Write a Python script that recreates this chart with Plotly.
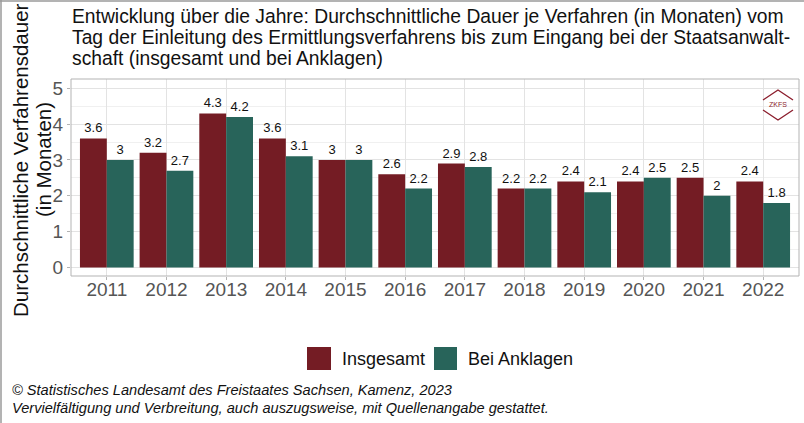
import plotly.graph_objects as go

# Average duration per proceeding (months), by year
years = ["2011", "2012", "2013", "2014", "2015", "2016",
         "2017", "2018", "2019", "2020", "2021", "2022"]
insgesamt = [3.6, 3.2, 4.3, 3.6, 3.0, 2.6, 2.9, 2.2, 2.4, 2.4, 2.5, 2.4]
bei_anklagen = [3.0, 2.7, 4.2, 3.1, 3.0, 2.2, 2.8, 2.2, 2.1, 2.5, 2.0, 1.8]

series_names = ["Insgesamt", "Bei Anklagen"]
series_colors = ["#741c24", "#28645a"]

title_lines = [
    "Entwicklung über die Jahre: Durchschnittliche Dauer je Verfahren (in Monaten) vom",
    "Tag der Einleitung des Ermittlungsverfahrens bis zum Eingang bei der Staatsanwalt-",
    "schaft (insgesamt und bei Anklagen)",
]
y_title_lines = ["Durchschnittliche Verfahrensdauer", "(in Monaten)"]
caption_lines = [
    "© Statistisches Landesamt des Freistaates Sachsen, Kamenz, 2023",
    "Vervielfältigung und Verbreitung, auch auszugsweise, mit Quellenangabe gestattet.",
]

W, H = 804, 423
ML, MR, MT, MB = 71, 5, 79, 147
PW, PH = W - ML - MR, H - MT - MB


def px(x):
    return (x - ML) / PW


def py(y):
    return (H - MB - y) / PH


FONT = "Liberation Sans, Arial, sans-serif"

fig = go.Figure()
for name, vals, col in zip(series_names, [insgesamt, bei_anklagen], series_colors):
    fig.add_trace(go.Bar(
        x=years, y=vals, name=name,
        marker=dict(color=col, line=dict(width=0)),
        text=[f"{v:g}" for v in vals],
        textposition="outside",
        textfont=dict(size=13, color="#111111", family=FONT),
        cliponaxis=False,
        showlegend=False,
    ))

fig.update_layout(
    width=W, height=H,
    margin=dict(l=ML, r=MR, t=MT, b=MB),
    paper_bgcolor="white", plot_bgcolor="white",
    barmode="group", bargap=0.1, bargroupgap=0.0,
    font=dict(family=FONT),
    uniformtext=dict(mode=False),
)
fig.update_xaxes(
    type="category", range=[-0.6, 11.6],
    showgrid=True, gridcolor="#e3e3e3", gridwidth=1,
    showline=False, mirror=False,
    ticks="outside", ticklen=3, tickcolor="#b3b3b3",
    ticklabelstandoff=-7,
    tickfont=dict(size=19, color="#555555", family=FONT),
    zeroline=False,
)
fig.update_yaxes(
    range=[-0.24, 5.26],
    tickvals=[0, 1, 2, 3, 4, 5],
    showgrid=True, gridcolor="#e3e3e3", gridwidth=1,
    minor=dict(tickvals=[0.5, 1.5, 2.5, 3.5, 4.5], showgrid=True,
               gridcolor="#f0f0f0", gridwidth=1),
    ticks="outside", ticklen=3, tickcolor="#b3b3b3",
    tickfont=dict(size=19, color="#555555", family=FONT),
    zeroline=False, showline=False,
)

shapes = []
# panel border
shapes.append(dict(type="rect", xref="paper", yref="paper", x0=0, x1=1, y0=0, y1=1,
                   line=dict(color="#b3b3b3", width=1), fillcolor="rgba(0,0,0,0)",
                   layer="above"))
# outer frame on left and top
shapes.append(dict(type="line", xref="paper", yref="paper",
                   x0=px(1), x1=px(1), y0=py(0), y1=py(H),
                   line=dict(color="#9a9a9a", width=1.5)))
shapes.append(dict(type="line", xref="paper", yref="paper",
                   x0=px(0), x1=px(W), y0=py(1), y1=py(1),
                   line=dict(color="#9a9a9a", width=1.5)))

# ZKFS emblem
logo_col = "#8b1d2c"
for pts in ([(763, 100), (778, 90), (793, 100)], [(763, 110), (778, 120), (793, 110)]):
    path = "M " + " L ".join(f"{px(a):.5f},{py(b):.5f}" for a, b in pts)
    shapes.append(dict(type="path", xref="paper", yref="paper", path=path,
                       line=dict(color=logo_col, width=1.3)))

# legend keys
legend_keys = [(307, 347, 331, 370), (434, 347, 457, 370)]
for (x0, y0, x1, y1), col in zip(legend_keys, series_colors):
    shapes.append(dict(type="rect", xref="paper", yref="paper",
                       x0=px(x0), x1=px(x1), y0=py(y1), y1=py(y0),
                       fillcolor=col, line=dict(color=col, width=0)))

annotations = []
for i, line in enumerate(title_lines):
    annotations.append(dict(
        text=line, xref="paper", yref="paper", x=px(70), y=py(17 + i * 20.5),
        xanchor="left", yanchor="middle", showarrow=False,
        font=dict(size=19.3, color="#111111", family=FONT)))

for xc, line in zip([20, 43], y_title_lines):
    annotations.append(dict(
        text=line, xref="paper", yref="paper", x=px(xc), y=py(160),
        xanchor="center", yanchor="middle", textangle=-90, showarrow=False,
        font=dict(size=20.5, color="#111111", family=FONT)))

annotations.append(dict(
    text="ZKFS", xref="paper", yref="paper", x=px(778), y=py(105),
    xanchor="center", yanchor="middle", showarrow=False,
    font=dict(size=7, color=logo_col, family=FONT)))

for (x0, y0, x1, y1), name in zip(legend_keys, series_names):
    annotations.append(dict(
        text=name, xref="paper", yref="paper", x=px(x1 + 9), y=py((y0 + y1) / 2),
        xanchor="left", yanchor="middle", showarrow=False,
        font=dict(size=18, color="#111111", family=FONT)))

for i, line in enumerate(caption_lines):
    annotations.append(dict(
        text=f"<i>{line}</i>", xref="paper", yref="paper", x=px(10), y=py(390 + i * 17.5),
        xanchor="left", yanchor="middle", showarrow=False,
        font=dict(size=14.6, color="#111111", family=FONT)))

fig.update_layout(shapes=shapes, annotations=annotations)
fig.write_html("out.html")
